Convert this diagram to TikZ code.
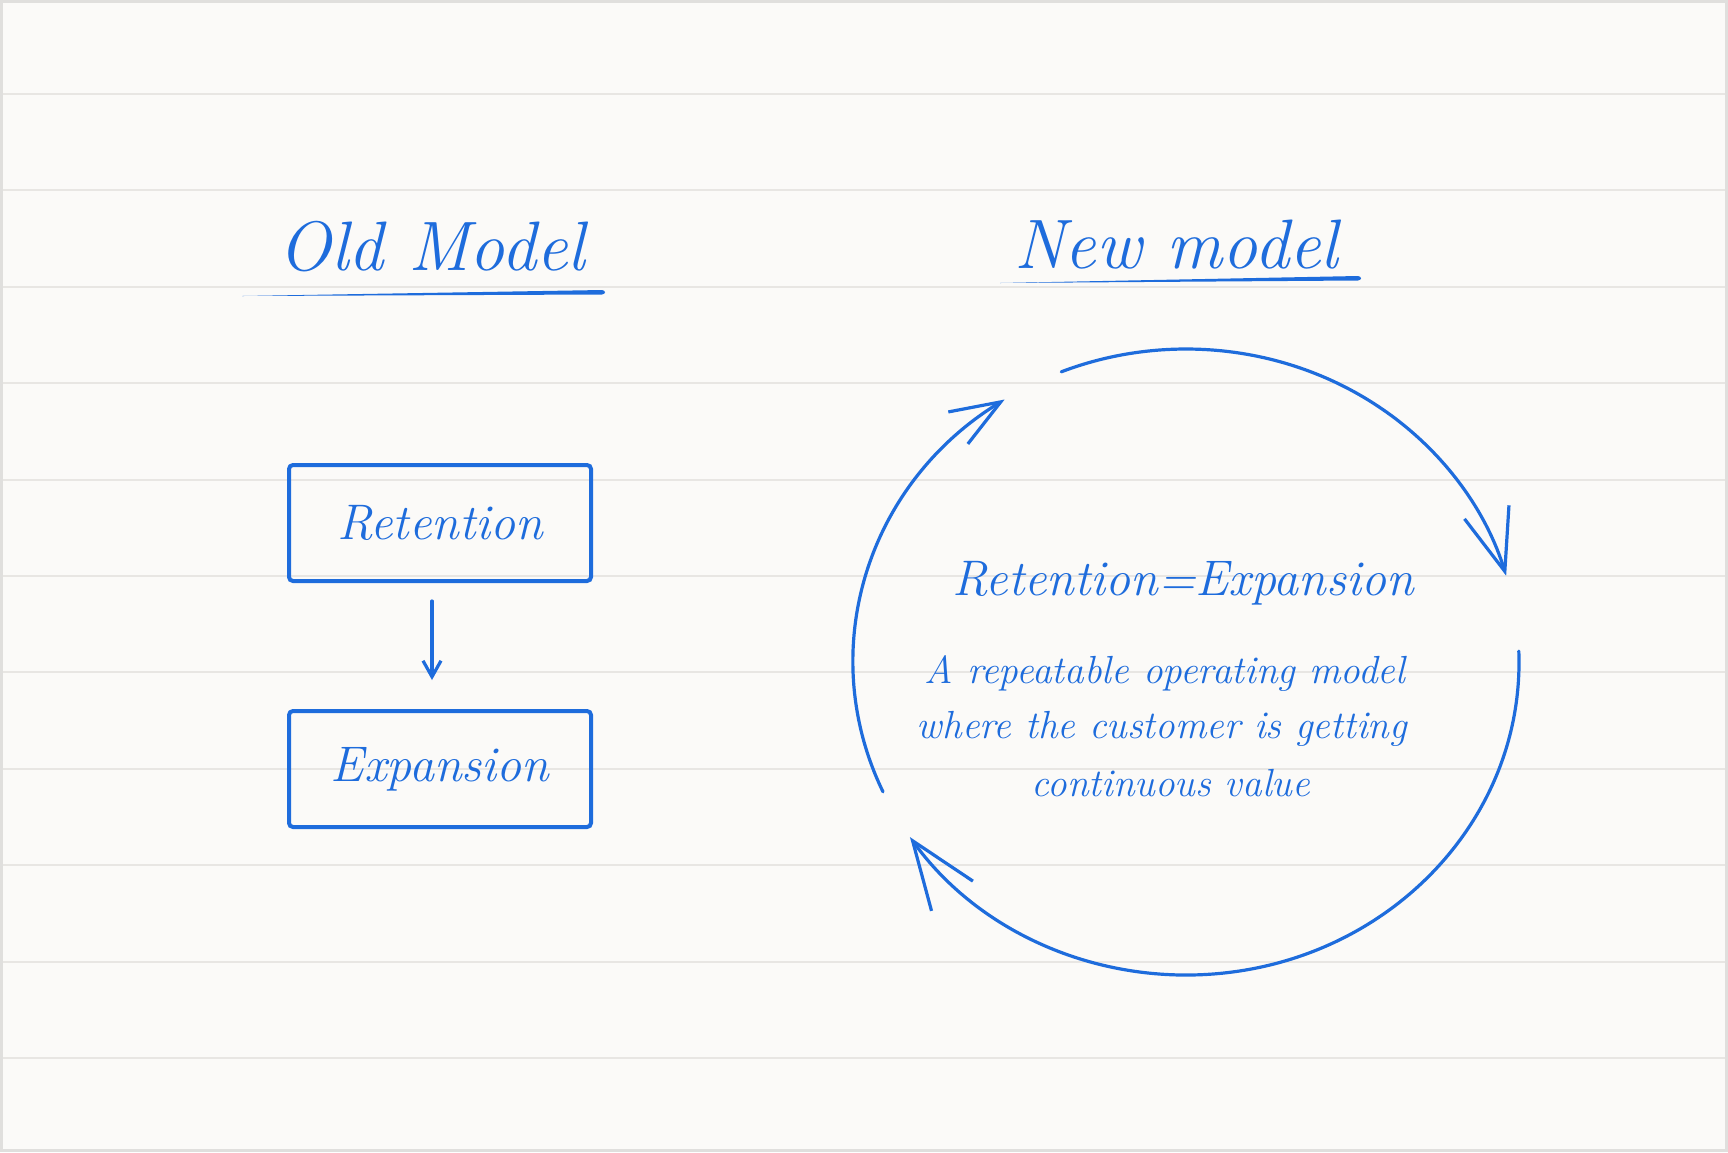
\documentclass[tikz,border=0pt]{standalone}
\usepackage{fontspec}
\usetikzlibrary{arrows.meta}
\definecolor{ink}{RGB}{30,108,220}
\definecolor{paper}{RGB}{251,250,248}
\definecolor{ruleline}{RGB}{232,230,227}
\definecolor{edge}{RGB}{224,223,221}
\begin{document}
\begin{tikzpicture}[x=0.5pt,y=-0.5pt,
  hand/.style={text=ink, inner sep=0pt},
  titletext/.style={hand, font=\itshape\fontsize{35}{42}\selectfont, anchor=base},
  boxtext/.style={draw=ink, line width=2pt, rounded corners=2pt, text=ink,
    font=\itshape\fontsize{25}{30}\selectfont, minimum width=151pt, minimum height=58pt, inner sep=0pt},
  eqtext/.style={hand, font=\itshape\fontsize{25}{30}\selectfont, anchor=base},
  subtext/.style={hand, font=\itshape\fontsize{19.6}{24}\selectfont, anchor=base},
  cyc/.style={draw=ink, line width=1.6pt, line cap=round},
  bigtip/.style={-{Straight Barb[length=#1,width=0.75*#1]}},
  link/.style={draw=ink, line width=1.6pt, line cap=round, -{Straight Barb[length=8pt,width=9pt]}}
]
\useasboundingbox (0,0) rectangle (1728,1152);
\fill[paper] (0,0) rectangle (1728,1152);
\foreach \i in {0,...,10}
  \draw[ruleline, line width=1pt] (0,{94+96.4*\i}) -- (1728,{94+96.4*\i});
\draw[edge, line width=1.5pt] (1.5,1.5) rectangle (1726.5,1150.5);

% titles
\node[titletext] (oldt) at (432,270) {Old Model};
\node[titletext] (newt) at (1176,268) {New model};
\fill[ink] (242,296) -- (602,290) .. controls (606,290.5) and (606,294) .. (602,294.5) -- cycle;
\fill[ink] (1000,283) -- (1358,276) .. controls (1362,276.5) and (1362,280) .. (1358,280.5) -- cycle;

% old model
\node[boxtext] (ret) at (440,523) {Retention};
\node[boxtext] (exp) at (440,769) {Expansion};
\draw[link, shorten <=9pt, shorten >=14.5pt] ([xshift=-4pt]ret.south) -- ([xshift=-4pt]exp.north);

% new model
\node[eqtext] (eq) at (1183,595) {Retention=Expansion};
\node[subtext] (s1) at (1165,683) {A repeatable operating model};
\node[subtext] (s2) at (1162,738) {where the customer is getting};
\node[subtext] (s3) at (1171,796) {continuous value};

\coordinate (a1) at (1061.3,371.8);
\coordinate (a2) at (1518.8,651.1);
\coordinate (a3) at (883.0,791.8);
\draw[cyc, bigtip=31pt] (a1) arc[start angle=-112, end angle=-16, x radius=333, y radius=313];
\draw[cyc, bigtip=34pt] (a2) arc[start angle=-2, end angle=146, x radius=333, y radius=313];
\draw[cyc, bigtip=25pt] (a3) arc[start angle=155.5, end angle=237, x radius=333, y radius=313];
\end{tikzpicture}
\end{document}
